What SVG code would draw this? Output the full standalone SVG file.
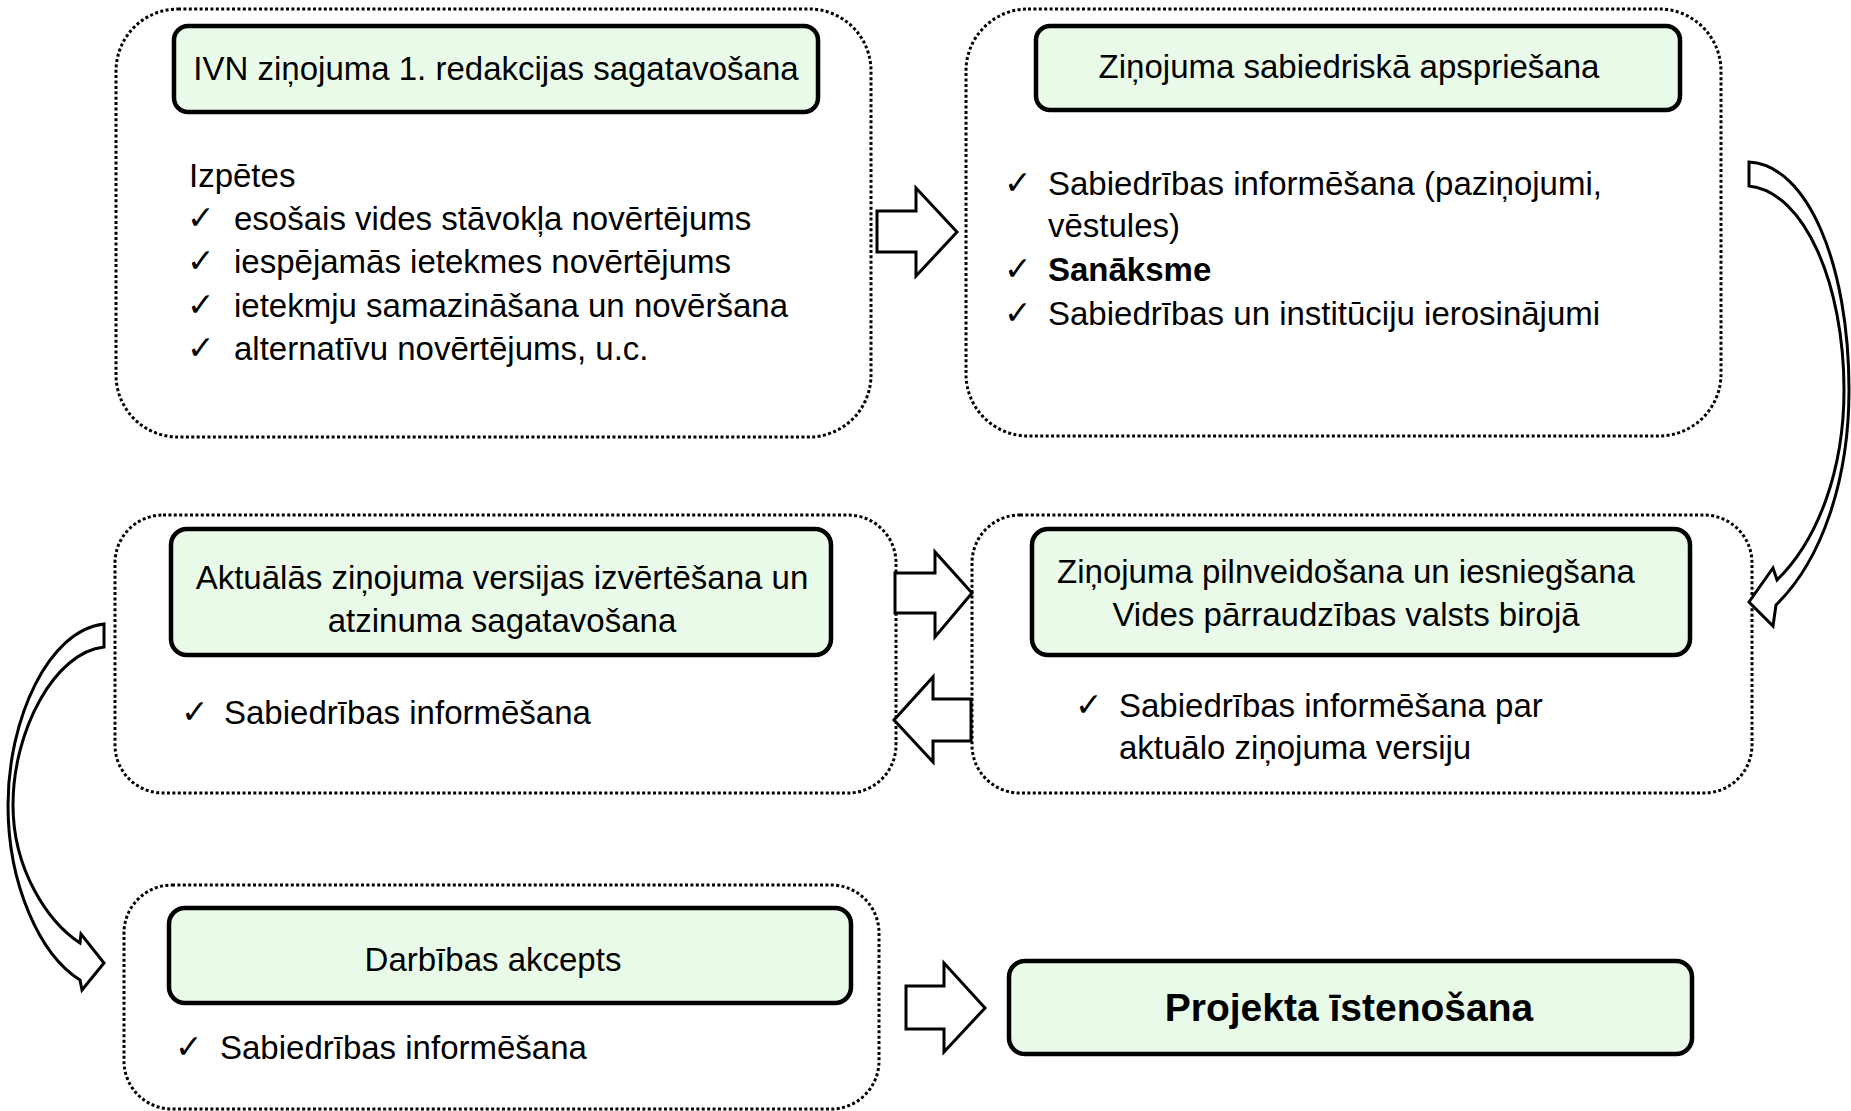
<svg xmlns="http://www.w3.org/2000/svg" width="1851" height="1111" viewBox="0 0 1851 1111">
<style>
.outer{fill:#fff;stroke:#000;stroke-width:3;stroke-dasharray:3 2.4}
.inner{fill:#e9fbe8;stroke:#000;stroke-width:4.5}
.t{font-family:"Liberation Sans",Arial,sans-serif;font-size:33px;fill:#000}
.c{text-anchor:middle}
.b{font-weight:bold}
.ck{font-family:"DejaVu Sans",sans-serif;font-size:33px;fill:#000}
.arrow{fill:#fff;stroke:#000;stroke-width:3;stroke-linejoin:miter}
</style>
<rect width="1851" height="1111" fill="#fff"/>

<g id="node-ivn">
<rect class="outer" x="116" y="9" width="755" height="428" rx="62"/>
<rect class="inner" x="174" y="26" width="644" height="86" rx="14"/>
<text class="t c" x="496" y="80">IVN ziņojuma 1. redakcijas sagatavošana</text>
<text class="t" x="189" y="187">Izpētes</text>
<text class="ck" x="187" y="229">✓</text><text class="t" x="234" y="230">esošais vides stāvokļa novērtējums</text>
<text class="ck" x="187" y="272">✓</text><text class="t" x="234" y="273">iespējamās ietekmes novērtējums</text>
<text class="ck" x="187" y="316">✓</text><text class="t" x="234" y="317">ietekmju samazināšana un novēršana</text>
<text class="ck" x="187" y="359">✓</text><text class="t" x="234" y="360">alternatīvu novērtējums, u.c.</text>
</g>

<g id="node-apspriesana">
<rect class="outer" x="966" y="9" width="755" height="427" rx="62"/>
<rect class="inner" x="1036" y="26" width="644" height="84" rx="14"/>
<text class="t c" x="1349" y="78">Ziņojuma sabiedriskā apspriešana</text>
<text class="ck" x="1004" y="194">✓</text><text class="t" x="1048" y="195">Sabiedrības informēšana (paziņojumi,</text>
<text class="t" x="1048" y="237">vēstules)</text>
<text class="ck" x="1004" y="280">✓</text><text class="t b" x="1048" y="281">Sanāksme</text>
<text class="ck" x="1004" y="324">✓</text><text class="t" x="1048" y="325">Sabiedrības un institūciju ierosinājumi</text>
</g>

<g id="node-izvertesana">
<rect class="outer" x="115" y="515" width="781" height="278" rx="48"/>
<rect class="inner" x="171" y="529" width="660" height="126" rx="16"/>
<text class="t c" x="502" y="589">Aktuālās ziņojuma versijas izvērtēšana un</text>
<text class="t c" x="502" y="632">atzinuma sagatavošana</text>
<text class="ck" x="181" y="723">✓</text><text class="t" x="224" y="724">Sabiedrības informēšana</text>
</g>

<g id="node-pilnveidosana">
<rect class="outer" x="972" y="515" width="780" height="278" rx="48"/>
<rect class="inner" x="1032" y="529" width="658" height="126" rx="16"/>
<text class="t c" x="1346" y="583">Ziņojuma pilnveidošana un iesniegšana</text>
<text class="t c" x="1346" y="626">Vides pārraudzības valsts birojā</text>
<text class="ck" x="1075" y="716">✓</text><text class="t" x="1119" y="717">Sabiedrības informēšana par</text>
<text class="t" x="1119" y="759">aktuālo ziņojuma versiju</text>
</g>

<g id="node-akcepts">
<rect class="outer" x="124" y="885" width="755" height="224" rx="48"/>
<rect class="inner" x="169" y="908" width="682" height="95" rx="16"/>
<text class="t c" x="493" y="971">Darbības akcepts</text>
<text class="ck" x="175" y="1058">✓</text><text class="t" x="220" y="1059">Sabiedrības informēšana</text>
</g>

<g id="node-projekts">
<rect class="inner" x="1009" y="961" width="683" height="93" rx="16"/>
<text class="t c b" x="1349" y="1021" style="font-size:39px">Projekta īstenošana</text>
</g>

<g id="connectors">
<path class="arrow" d="M877,211 H916 V188 L957,232 L916,276 V252 H877 Z"/>
<path class="arrow" d="M1749,162 C1808,165 1849,265 1849,390 C1849,480 1822,560 1776,605 L1773,626 L1749,602 L1773,568 L1777,580 C1818,540 1844,470 1844,390 C1844,285 1805,192 1749,186 Z"/>
<path class="arrow" d="M895,573 H935 V552 L972,593 L935,637 V613 H895 Z"/>
<path class="arrow" d="M971,699 H933 V677 L894,720 L933,762 V741 H971 Z"/>
<path class="arrow" d="M104,624 C48,630 8,720 8,805 C8,885 40,955 80,980 L82,990 L104,963 L81,934 L80,943 C48,922 13,870 13,805 C13,730 55,652 104,647 Z"/>
<path class="arrow" d="M906,986 H944 V963 L985,1008 L944,1052 V1029 H906 Z"/>
</g>
</svg>
